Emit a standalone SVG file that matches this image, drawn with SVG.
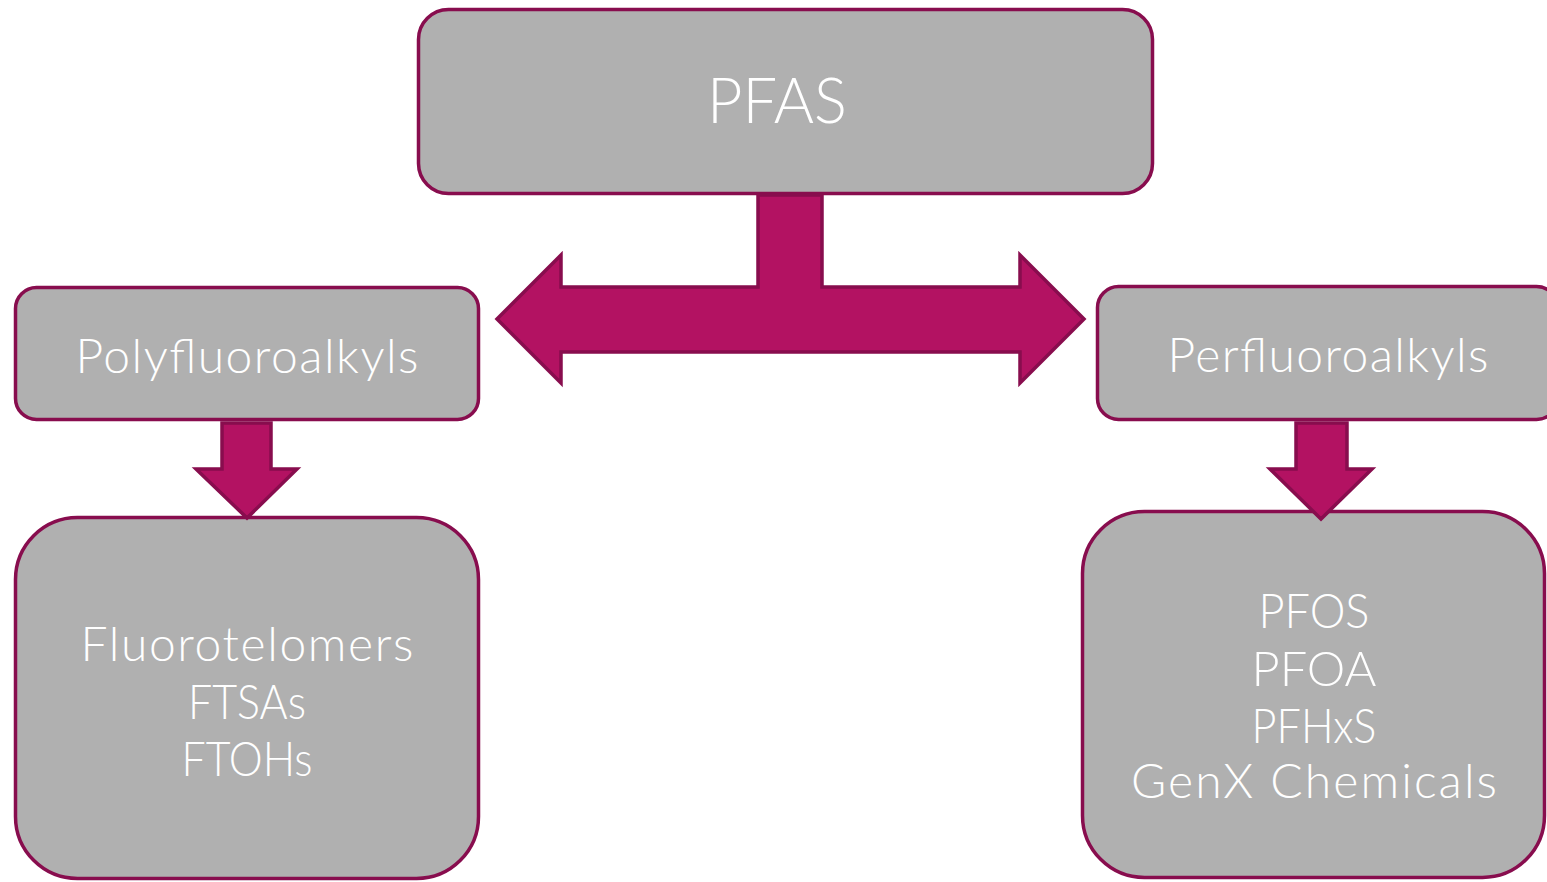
<svg xmlns="http://www.w3.org/2000/svg" width="1547" height="882" viewBox="0 0 1547 882">
<style>
.box{fill:#b0b0b0;stroke:#880d4e;stroke-width:3.5}
.arrow{fill:#b31262;stroke:#880d4e;stroke-width:3.5;stroke-linejoin:miter}
.t{font-family:"Lato","Noto Sans",sans-serif;font-weight:300;fill:#ffffff;text-anchor:middle}
</style>
<rect width="1547" height="882" fill="#ffffff"/>
<g id="pfas">
<rect class="box" x="418.5" y="9.5" width="734" height="184" rx="30"/>
<text class="t" x="777" y="123" font-size="63" textLength="140" lengthAdjust="spacingAndGlyphs">PFAS</text>
</g>
<g id="polyfluoroalkyls">
<rect class="box" x="15.5" y="287.5" width="463" height="132" rx="21"/>
<text class="t" x="247" y="373" font-size="48" textLength="343" lengthAdjust="spacing">Polyfluoroalkyls</text>
</g>
<g id="perfluoroalkyls">
<rect class="box" x="1097.5" y="286.5" width="460" height="133" rx="21"/>
<text class="t" x="1328" y="372" font-size="48" textLength="321" lengthAdjust="spacing">Perfluoroalkyls</text>
</g>
<g id="poly-examples">
<rect class="box" x="15.5" y="517.5" width="463" height="361" rx="62"/>
<text class="t" font-size="48"><tspan x="247" y="661" textLength="333" lengthAdjust="spacing">Fluorotelomers</tspan><tspan x="247" y="719" textLength="118" lengthAdjust="spacingAndGlyphs">FTSAs</tspan><tspan x="247" y="776" textLength="131" lengthAdjust="spacingAndGlyphs">FTOHs</tspan></text>
</g>
<g id="perf-examples">
<rect class="box" x="1082.5" y="511.5" width="462" height="366" rx="62"/>
<text class="t" font-size="48"><tspan x="1314" y="628" textLength="111" lengthAdjust="spacingAndGlyphs">PFOS</tspan><tspan x="1314" y="686" textLength="125" lengthAdjust="spacingAndGlyphs">PFOA</tspan><tspan x="1314" y="743" textLength="125" lengthAdjust="spacingAndGlyphs">PFHxS</tspan><tspan x="1314" y="798" textLength="366" lengthAdjust="spacing">GenX Chemicals</tspan></text>
</g>
<g id="connectors">
<polygon class="arrow" points="758,195 758,287 561,287 561,255 497,319 561,383 561,352 1020,352 1020,383 1084,319 1020,255 1020,287 822,287 822,195"/>
<polygon class="arrow" points="222,423 222,469 196,469 247,518 297,469 271,469 271,423"/>
<polygon class="arrow" points="1296,423 1296,469 1270,469 1321,519 1372,469 1347,469 1347,423"/>
</g>
</svg>
